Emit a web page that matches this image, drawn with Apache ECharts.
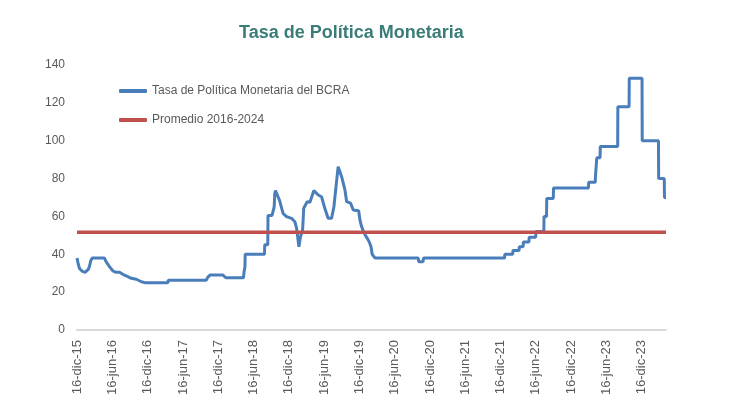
<!DOCTYPE html>
<html>
<head>
<meta charset="utf-8">
<script src="https://cdn.jsdelivr.net/npm/echarts@6/dist/echarts.min.js"></script>
<style>
html,body{margin:0;padding:0;background:#fff;}
#chart{width:730px;height:409px;}
</style>
</head>
<body>
<div id="chart"></div>
<script>
// ---- Data ----
const titleText = 'Tasa de Política Monetaria';
const seriesNames = ['Tasa de Política Monetaria del BCRA', 'Promedio 2016-2024'];

const rateDates = [
  '2015-12-16','2015-12-22','2015-12-29','2016-01-12','2016-01-28','2016-02-06','2016-02-12','2016-02-18','2016-02-25','2016-03-03',
  '2016-05-06','2016-05-15','2016-06-01','2016-06-18','2016-07-06','2016-07-23','2016-08-09','2016-09-04','2016-09-22','2016-10-18',
  '2016-11-13','2016-11-30','2017-03-30','2017-04-01','2017-10-15','2017-10-22','2017-11-03','2018-01-09','2018-01-12','2018-01-24',
  '2018-04-25','2018-04-28','2018-05-03','2018-05-04','2018-08-12','2018-08-13','2018-08-29','2018-08-30','2018-09-20','2018-10-01',
  '2018-10-04','2018-10-08','2018-10-13','2018-10-28','2018-11-16','2018-12-04','2018-12-30','2019-01-16','2019-01-25','2019-02-06',
  '2019-02-14','2019-02-25','2019-03-03','2019-03-21','2019-04-04','2019-04-24','2019-05-17','2019-06-03','2019-06-20','2019-07-07',
  '2019-07-25','2019-08-06','2019-08-16','2019-08-28','2019-09-15','2019-10-02','2019-10-11','2019-10-31','2019-11-14','2019-12-12',
  '2019-12-19','2019-12-26','2020-01-06','2020-01-16','2020-01-28','2020-02-07','2020-02-14','2020-02-20','2020-03-06','2020-10-15',
  '2020-10-18','2020-11-09','2020-11-12','2022-01-05','2022-01-06','2022-02-16','2022-02-17','2022-03-21','2022-03-22','2022-04-11',
  '2022-04-12','2022-05-11','2022-05-12','2022-06-15','2022-06-16','2022-07-27','2022-07-28','2022-08-10','2022-08-11','2022-09-14',
  '2022-09-15','2023-03-15','2023-03-16','2023-04-19','2023-04-20','2023-04-26','2023-04-27','2023-05-14','2023-05-15','2023-08-13',
  '2023-08-14','2023-10-11','2023-10-12','2023-12-17','2023-12-18','2024-03-11','2024-03-12','2024-04-10','2024-04-11','2024-04-19'
];
const rateValues = [
  38,35,32.5,31,30.5,31,32,33.5,36.5,38,
  38,36,33.5,31.3,30.5,30.5,29.4,28.2,27.3,26.8,
  25.5,25,25,26.3,26.3,27.8,29,29,28,27.6,
  27.6,30.5,33.5,40,40,45,45,60.5,60.5,65,
  72,73.6,73,68.7,61.6,59.9,59,57.2,53.7,44,
  49.3,52.8,64.3,67.8,67.5,73.6,71.3,70.4,64.3,59,
  59,65.1,74.8,86.3,81,74,67.8,67,63.4,63,
  58,55,52,50,48,46,44,40,38,38,
  36,36,38,38,40,40,42,42,44,44,
  46.5,46.5,49,49,52,52,60,60,69.5,69.5,
  75,75,78,78,81,81,91,91,97,97,
  118,118,133,133,100,100,80,80,70,70
];
const averageValue = 51.6;
const axisStart = '2015-12-16';
const axisEnd = '2024-04-19';
const tickDates = ['2015-12-16','2016-06-16','2016-12-16','2017-06-16','2017-12-16','2018-06-16','2018-12-16','2019-06-16','2019-12-16',
  '2020-06-16','2020-12-16','2021-06-16','2021-12-16','2022-06-16','2022-12-16','2023-06-16','2023-12-16'];
const tickLabels = ['16-dic-15','16-jun-16','16-dic-16','16-jun-17','16-dic-17','16-jun-18','16-dic-18','16-jun-19','16-dic-19',
  '16-jun-20','16-dic-20','16-jun-21','16-dic-21','16-jun-22','16-dic-22','16-jun-23','16-dic-23'];

// ---- Helpers ----
const DAY = 86400000;
function dayNum(s){ const p = s.split('-').map(Number); return Math.round(Date.UTC(p[0], p[1]-1, p[2]) / DAY); }
const tickDays = tickDates.map(dayNum);
const labelMap = {};
tickDays.forEach((t,i)=>{ labelMap[t] = tickLabels[i]; });

const rateData = rateDates.map((d,i)=>[dayNum(d), rateValues[i]]);
const avgData = [[dayNum(axisStart), averageValue], [dayNum(axisEnd), averageValue]];

const chart = echarts.init(document.getElementById('chart'), null, {renderer:'canvas'});
chart.setOption({
  animation: false,
  backgroundColor: '#ffffff',
  title: {
    text: titleText,
    left: 234,
    top: 19,
    textStyle: { fontFamily: 'Liberation Sans', fontSize: 18, fontWeight: 'bold', color: '#3a7d78' }
  },
  legend: {
    orient: 'vertical',
    left: 114,
    top: 80,
    itemWidth: 28,
    itemHeight: 4,
    itemGap: 17,
    icon: 'roundRect',
    data: seriesNames,
    textStyle: { fontFamily: 'Liberation Sans', fontSize: 12, color: '#595959' }
  },
  grid: { left: 77, right: 64, top: 65, bottom: 79, containLabel: false },
  xAxis: {
    type: 'value',
    min: dayNum(axisStart),
    max: dayNum(axisEnd),
    axisLine: { show: true, onZero: false, lineStyle: { color: '#d9d9d9', width: 2 } },
    axisTick: { show: false },
    splitLine: { show: false },
    axisLabel: {
      rotate: 90,
      margin: 10,
      fontFamily: 'Liberation Sans',
      fontSize: 13,
      color: '#595959',
      customValues: tickDays,
      formatter: function(v){ return labelMap[Math.round(v)] !== undefined ? labelMap[Math.round(v)] : ''; }
    }
  },
  yAxis: {
    type: 'value',
    min: 0,
    max: 140,
    interval: 20,
    axisLine: { show: false },
    axisTick: { show: false },
    splitLine: { show: false },
    axisLabel: { margin: 12, fontFamily: 'Liberation Sans', fontSize: 12, color: '#595959' }
  },
  series: [
    {
      name: seriesNames[0],
      type: 'line',
      data: rateData,
      showSymbol: false,
      symbol: 'none',
      lineStyle: { color: '#4a7ebb', width: 3 },
      itemStyle: { color: '#4a7ebb' },
      z: 2
    },
    {
      name: seriesNames[1],
      type: 'line',
      data: avgData,
      showSymbol: false,
      symbol: 'none',
      lineStyle: { color: '#c0504d', width: 3.5 },
      itemStyle: { color: '#c0504d' },
      z: 3
    }
  ]
});
</script>
</body>
</html>
